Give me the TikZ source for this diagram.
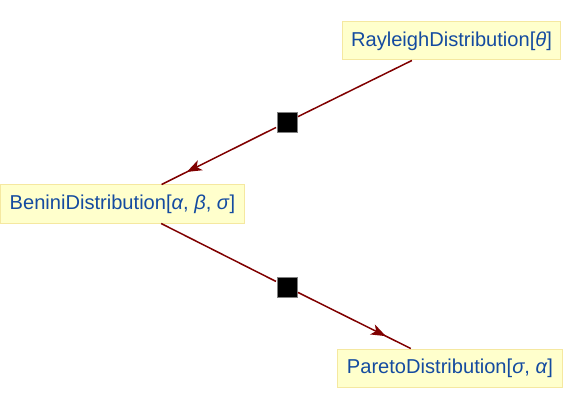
\documentclass[tikz,border=0pt]{standalone}
\usepackage{fontspec}
\setmainfont{Liberation Sans}
\usetikzlibrary{arrows.meta,decorations.markings}
\definecolor{edgecol}{RGB}{128,0,0}
\definecolor{boxfill}{RGB}{255,255,204}
\definecolor{boxdraw}{RGB}{245,232,160}
\definecolor{txtcol}{RGB}{20,75,160}
\begin{document}
\begin{tikzpicture}[x=1pt,y=-1pt,
  distbox/.style={draw=boxdraw,fill=boxfill,line width=1pt,text=txtcol,
    font=\fontsize{20.1}{23}\selectfont,inner xsep=9pt,minimum height=38pt,inner ysep=0pt},
  sq/.style={draw=gray,fill=black,minimum size=20pt,inner sep=0pt,line width=0.8pt,outer sep=1pt},
  edge/.style={draw=edgecol,line width=1.5pt},
  arredge/.style={edge,postaction=decorate,decoration={markings,
    mark=at position 0.78 with {\arrow{Stealth[length=15pt,width=11pt,inset=4pt]}}}}]
\useasboundingbox (0,0) rectangle (566,412);
\node[distbox] (R) at (451.5,41) {RayleighDistribution[\textit{θ}]};
\node[distbox] (B) at (122.5,204) {BeniniDistribution[\textit{α}, \textit{β}, \textit{σ}]};
\node[distbox] (P) at (450,368) {ParetoDistribution[\textit{σ}, \textit{α}]};
\node[sq] (s1) at (287,122) {};
\node[sq] (s2) at (287,287) {};
\draw[edge] (R) -- (s1);
\draw[arredge,fill=edgecol] (s1) -- (B);
\draw[edge] (B) -- (s2);
\draw[arredge,fill=edgecol] (s2) -- (P);
\end{tikzpicture}
\end{document}
